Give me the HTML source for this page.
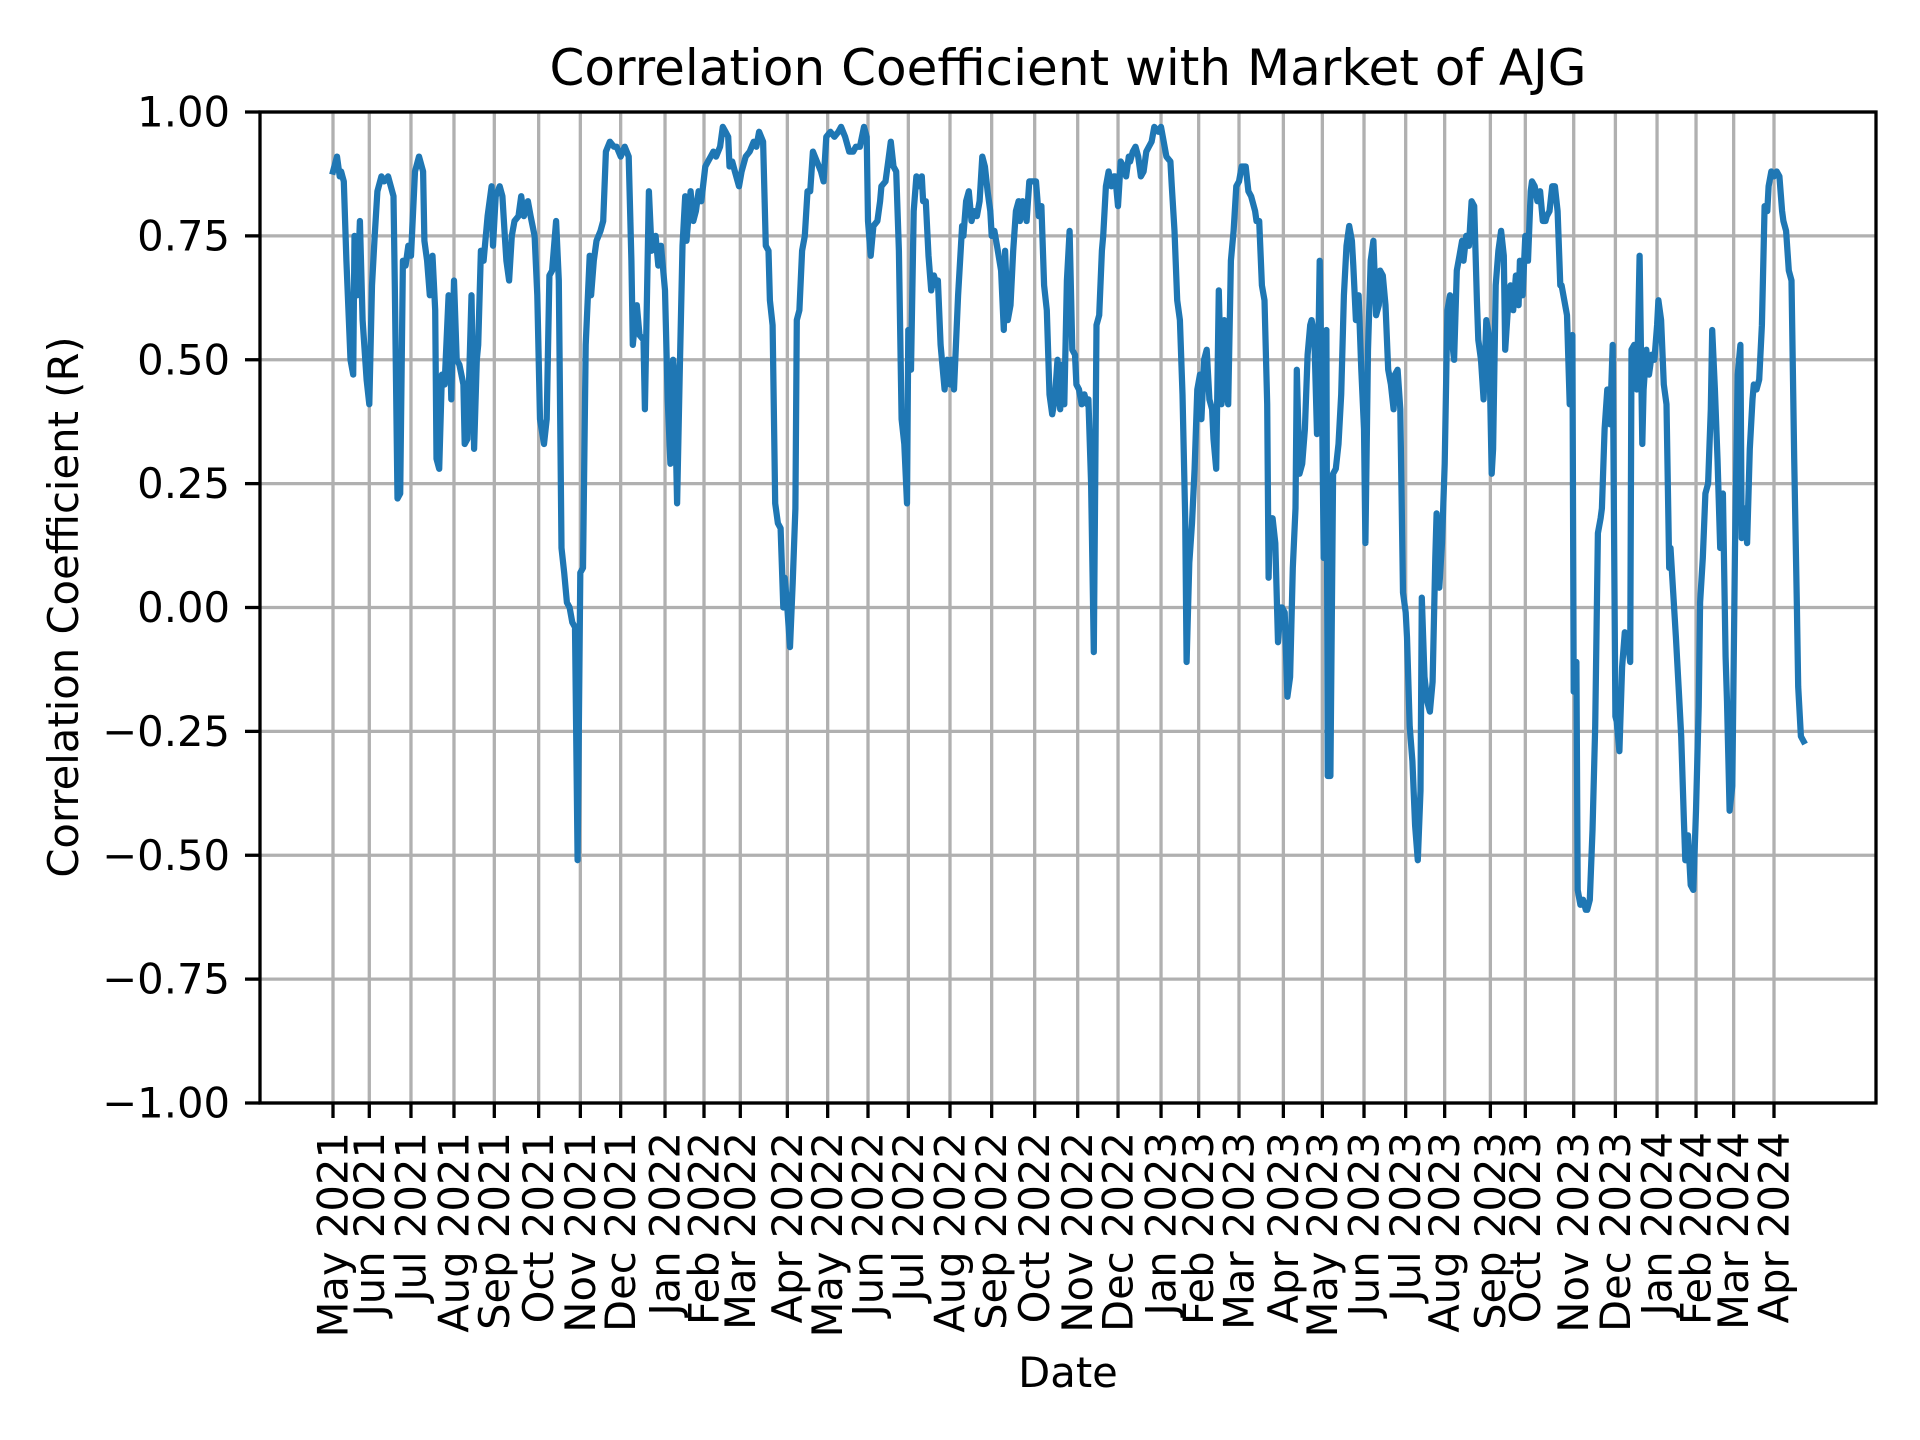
<!DOCTYPE html>
<html><head><meta charset="utf-8"><style>
html,body{margin:0;padding:0;background:#fff;}
svg{display:block;font-family:"DejaVu Sans","Liberation Sans",sans-serif;}
</style></head><body>
<svg id="chart" width="1920" height="1440" viewBox="0 0 1920 1440" xmlns="http://www.w3.org/2000/svg">
<rect width="1920" height="1440" fill="#fff"/>
<g id="grid"></g>
<g id="series"></g>
<rect x="260" y="112" width="1616" height="991" fill="none" stroke="#000" stroke-width="3.3"/>
<g id="ticks"></g>
<text x="1068" y="85" font-size="50" text-anchor="middle">Correlation Coefficient with Market of AJG</text>
<text x="1068" y="1387" font-size="41.7" text-anchor="middle">Date</text>
<text x="0" y="0" font-size="41.7" text-anchor="middle" transform="translate(78,607) rotate(-90)">Correlation Coefficient (R)</text>
</svg>
<script>
const tDays = [0,3,5,6,8,10,13,15,16,18,20,22,25,27,29,31,33,36,38,41,45,46,48,50,52,54,56,58,61,64,67,68,70,72,74,76,77,79,81,83,86,88,90,92,94,97,98,100,103,105,107,108,110,112,115,118,119,121,124,126,128,129,131,133,135,138,140,142,145,147,150,152,154,157,159,161,163,166,168,170,172,174,176,178,180,182,184,186,188,191,192,194,196,199,201,203,206,209,211,214,217,220,222,223,226,228,231,232,235,237,240,242,244,247,249,251,253,254,256,258,260,262,263,266,268,270,272,274,277,279,281,283,285,288,290,292,294,295,297,299,302,304,307,310,313,315,317,320,322,324,325,327,329,331,333,335,336,338,340,342,344,345,347,349,351,353,355,357,360,363,365,367,370,373,376,378,381,384,387,389,392,395,397,398,400,402,405,407,408,411,413,415,417,419,421,423,425,427,428,430,432,434,436,438,439,441,443,445,447,449,450,452,455,457,459,460,462,465,468,469,471,473,475,477,479,481,483,485,487,489,490,492,494,497,499,500,502,504,506,508,510,511,513,516,518,520,523,525,527,529,531,533,535,537,539,541,542,544,546,548,550,552,553,555,557,559,561,562,564,566,568,570,572,573,575,577,579,581,582,584,586,588,590,592,593,595,597,599,601,603,605,607,609,611,614,616,618,620,623,624,626,628,630,632,634,635,637,639,641,643,645,646,648,650,652,654,655,657,659,661,663,665,666,668,670,672,674,676,679,681,683,686,687,689,691,693,695,696,697,699,701,703,705,706,708,710,712,714,716,717,719,721,723,725,727,728,730,732,734,736,737,739,740,742,744,746,748,750,752,754,756,758,759,761,763,765,767,768,770,772,774,776,778,779,781,783,785,787,789,790,792,794,796,798,799,801,803,805,807,809,810,812,814,816,818,820,821,823,825,827,829,831,832,834,836,838,840,841,843,845,847,849,851,852,854,856,858,860,862,863,865,867,869,871,872,874,876,878,880,882,883,885,887,889,891,892,894,896,898,900,902,903,905,907,909,911,913,914,916,918,920,922,923,925,926,928,930,932,933,935,937,939,941,943,944,946,948,950,952,954,955,957,959,961,963,965,966,968,970,972,974,975,977,979,981,983,985,986,988,990,992,994,995,997,999,1001,1003,1005,1006,1008,1010,1012,1014,1016,1017,1019,1021,1023,1025,1026,1028,1030,1032,1034,1036,1037,1039,1041,1043,1045,1047,1048,1050,1052,1054,1056,1057,1059,1061,1063,1065,1067,1068,1070,1072,1074,1076,1078,1079,1081,1083,1085,1087,1089,1090,1092,1094];
const rVals = [0.88,0.91,0.87,0.88,0.86,0.70,0.50,0.47,0.75,0.63,0.78,0.58,0.46,0.41,0.65,0.75,0.84,0.87,0.86,0.87,0.83,0.65,0.22,0.23,0.70,0.69,0.73,0.71,0.88,0.91,0.88,0.74,0.70,0.63,0.71,0.60,0.30,0.28,0.47,0.45,0.63,0.42,0.66,0.50,0.49,0.45,0.33,0.34,0.63,0.32,0.50,0.53,0.72,0.70,0.79,0.85,0.73,0.83,0.85,0.83,0.74,0.70,0.66,0.75,0.78,0.79,0.83,0.79,0.82,0.79,0.75,0.63,0.38,0.33,0.38,0.67,0.68,0.78,0.66,0.12,0.07,0.01,0.00,-0.03,-0.04,-0.51,0.07,0.08,0.53,0.71,0.63,0.70,0.74,0.76,0.78,0.92,0.94,0.93,0.93,0.91,0.93,0.91,0.70,0.53,0.61,0.55,0.54,0.40,0.84,0.72,0.75,0.69,0.73,0.64,0.42,0.29,0.50,0.47,0.21,0.48,0.73,0.83,0.74,0.84,0.78,0.80,0.84,0.82,0.89,0.90,0.91,0.92,0.91,0.93,0.97,0.96,0.95,0.89,0.90,0.88,0.85,0.88,0.91,0.92,0.94,0.93,0.96,0.94,0.73,0.72,0.62,0.57,0.21,0.17,0.16,0.00,0.06,0.00,-0.08,0.05,0.20,0.58,0.60,0.72,0.75,0.84,0.84,0.92,0.90,0.88,0.86,0.95,0.96,0.95,0.96,0.97,0.95,0.92,0.92,0.93,0.93,0.97,0.95,0.78,0.71,0.77,0.78,0.82,0.85,0.86,0.90,0.94,0.89,0.88,0.72,0.38,0.33,0.21,0.56,0.48,0.80,0.87,0.85,0.87,0.82,0.82,0.71,0.64,0.67,0.65,0.66,0.53,0.44,0.50,0.45,0.50,0.44,0.63,0.77,0.75,0.82,0.84,0.78,0.80,0.79,0.82,0.91,0.89,0.84,0.80,0.75,0.76,0.73,0.68,0.56,0.72,0.58,0.61,0.72,0.80,0.82,0.78,0.82,0.78,0.86,0.86,0.86,0.79,0.81,0.65,0.60,0.43,0.39,0.42,0.50,0.40,0.49,0.41,0.66,0.76,0.52,0.51,0.45,0.44,0.41,0.43,0.41,0.42,0.25,-0.09,0.57,0.59,0.72,0.75,0.85,0.88,0.85,0.87,0.87,0.81,0.90,0.89,0.87,0.91,0.90,0.92,0.93,0.91,0.87,0.88,0.92,0.93,0.94,0.97,0.96,0.97,0.94,0.91,0.90,0.85,0.76,0.62,0.58,0.43,0.18,-0.11,0.09,0.17,0.28,0.44,0.47,0.38,0.50,0.52,0.42,0.40,0.34,0.28,0.64,0.41,0.58,0.43,0.41,0.70,0.76,0.85,0.86,0.89,0.89,0.84,0.83,0.80,0.78,0.78,0.65,0.62,0.41,0.06,0.18,0.18,0.13,-0.07,0.00,0.00,-0.01,-0.18,-0.14,0.08,0.20,0.48,0.27,0.29,0.36,0.51,0.57,0.58,0.55,0.35,0.70,0.36,0.10,0.56,-0.34,-0.34,0.27,0.28,0.33,0.43,0.63,0.73,0.77,0.74,0.69,0.58,0.63,0.48,0.36,0.13,0.52,0.70,0.74,0.59,0.61,0.68,0.67,0.61,0.48,0.45,0.40,0.47,0.48,0.40,0.03,-0.01,-0.06,-0.24,-0.31,-0.44,-0.51,-0.37,0.02,-0.14,-0.19,-0.21,-0.15,0.10,0.19,0.04,0.13,0.29,0.60,0.63,0.55,0.50,0.68,0.71,0.74,0.70,0.75,0.73,0.82,0.81,0.62,0.54,0.50,0.42,0.58,0.55,0.27,0.32,0.65,0.72,0.76,0.71,0.52,0.60,0.65,0.60,0.67,0.61,0.70,0.63,0.75,0.70,0.84,0.86,0.85,0.82,0.84,0.78,0.78,0.79,0.80,0.85,0.85,0.80,0.65,0.65,0.62,0.59,0.41,0.55,-0.17,-0.11,-0.57,-0.60,-0.59,-0.61,-0.61,-0.59,-0.45,-0.24,0.15,0.18,0.20,0.36,0.44,0.37,0.53,-0.22,-0.23,-0.29,-0.12,-0.05,-0.06,-0.11,0.52,0.53,0.44,0.71,0.33,0.44,0.52,0.47,0.51,0.50,0.57,0.62,0.58,0.45,0.41,0.08,0.12,0.03,-0.06,-0.16,-0.26,-0.43,-0.51,-0.46,-0.56,-0.57,-0.41,-0.20,0.01,0.10,0.23,0.25,0.40,0.56,0.44,0.30,0.12,0.23,-0.10,-0.19,-0.41,-0.36,0.12,0.47,0.53,0.14,0.20,0.13,0.32,0.42,0.45,0.44,0.46,0.57,0.81,0.80,0.85,0.88,0.87,0.88,0.87,0.80,0.78,0.76,0.68,0.66,0.30,0.00,-0.16,-0.26,-0.27];
const xTickLabels = ["May 2021","Jun 2021","Jul 2021","Aug 2021","Sep 2021","Oct 2021","Nov 2021","Dec 2021","Jan 2022","Feb 2022","Mar 2022","Apr 2022","May 2022","Jun 2022","Jul 2022","Aug 2022","Sep 2022","Oct 2022","Nov 2022","Dec 2022","Jan 2023","Feb 2023","Mar 2023","Apr 2023","May 2023","Jun 2023","Jul 2023","Aug 2023","Sep 2023","Oct 2023","Nov 2023","Dec 2023","Jan 2024","Feb 2024","Mar 2024","Apr 2024"];
const xTickValues = [0,27,58,90,120,153,184,214,247,276,303,338,368,398,428,459,490,522,554,584,616,644,674,707,736,767,798,827,861,887,923,954,985,1014,1042,1072];
const yTickValues = [-1,-0.75,-0.5,-0.25,0,0.25,0.5,0.75,1];
const yTickLabels = ["\u22121.00","\u22120.75","\u22120.50","\u22120.25","0.00","0.25","0.50","0.75","1.00"];

const NS = "http://www.w3.org/2000/svg";
const X0 = 333, PX_PER = (1774 - 333) / 1072;
function xScale(t){ return X0 + t * PX_PER; }
function yScale(v){ return 112 + (1 - v) / 2 * 991; }
const grid = document.getElementById('grid');
const ticks = document.getElementById('ticks');
const series = document.getElementById('series');
function mk(tag, attrs){ const e = document.createElementNS(NS, tag); for (const k in attrs) e.setAttribute(k, attrs[k]); return e; }

xTickValues.forEach((t, i) => {
  const x = xScale(t);
  const g = mk('line', {x1:x, x2:x, y1:112, y2:1103, stroke:'#b0b0b0', 'stroke-width':3.3});
  
  
  grid.appendChild(g);
  const tk = mk('line', {x1:x, x2:x, y1:1103, y2:1118, stroke:'#000', 'stroke-width':3.3});
  
  
  ticks.appendChild(tk);
  const lb = mk('text', {x:0, y:0, 'font-size':41.7, 'text-anchor':'end', 'dominant-baseline':'central', transform:`translate(${x},1132) rotate(-90)`});
  lb.textContent = xTickLabels[i];
  
  
  ticks.appendChild(lb);
});
yTickValues.forEach((v, i) => {
  const y = yScale(v);
  const g = mk('line', {x1:260, x2:1876, y1:y, y2:y, stroke:'#b0b0b0', 'stroke-width':3.3});
  
  
  grid.appendChild(g);
  const tk = mk('line', {x1:245, x2:260, y1:y, y2:y, stroke:'#000', 'stroke-width':3.3});
  
  
  ticks.appendChild(tk);
  const lb = mk('text', {x:230, y:y, 'font-size':41.7, 'text-anchor':'end', 'dominant-baseline':'central'});
  lb.textContent = yTickLabels[i];
  
  
  ticks.appendChild(lb);
});
let d = '';
tDays.forEach((t, i) => { d += (i ? 'L' : 'M') + xScale(t).toFixed(1) + ',' + yScale(rVals[i]).toFixed(1); });
const path = mk('path', {d:d, fill:'none', stroke:'#1f77b4', 'stroke-width':6.25, 'stroke-linejoin':'round', 'stroke-linecap':'square'});


series.appendChild(path);
</script>
</body></html>
